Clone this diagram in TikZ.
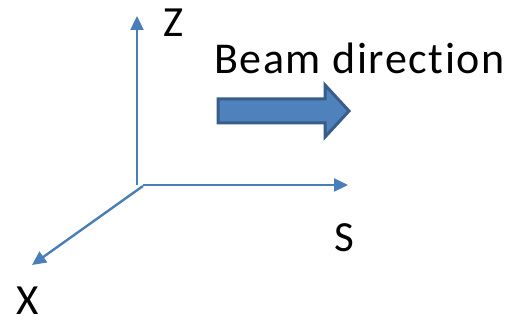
\documentclass[tikz,border=0pt]{standalone}
\usepackage{fontspec}
\setmainfont{Carlito}
\newfontfamily\beamfont[LetterSpace=3.6,Ligatures=NoCommon]{Carlito}
\usetikzlibrary{arrows.meta}
\definecolor{axisblue}{HTML}{4A7EBB}
\definecolor{beamfill}{HTML}{4F81BD}
\definecolor{beamdraw}{HTML}{385D8A}
\begin{document}
\begin{tikzpicture}[x=1pt,y=-1pt,
  axis/.style={draw=axisblue,line width=2.4pt,-{Triangle[length=14pt,width=13pt]}},
  axlabel/.style={inner sep=0pt,anchor=base west,font=\fontsize{43}{43}\selectfont},
  beamlabel/.style={inner sep=0pt,anchor=base west,font=\beamfont\fontsize{44}{44}\selectfont}]
\useasboundingbox (0,0) rectangle (512,320);
\coordinate (zt) at (137,16);
\coordinate (st) at (348,185);
\coordinate (xt) at (32,265);
\draw[axis] (137,185) -- (zt);
\draw[axis] (143,185) -- (st);
\draw[axis] (143,186) -- (xt);
\node[axlabel] (z) at (163,37) {Z};
\node[axlabel] (s) at (334,252) {S};
\node[axlabel] (x) at (16,315) {X};
\node[beamlabel] (b) at (214,74) {Beam direction};
\draw[fill=beamfill,draw=beamdraw,line width=3pt,line join=miter]
  (218,99) -- (325,99) -- (325,85) -- (349,111) -- (325,137) -- (325,123) -- (218,123) -- cycle;
\end{tikzpicture}
\end{document}
